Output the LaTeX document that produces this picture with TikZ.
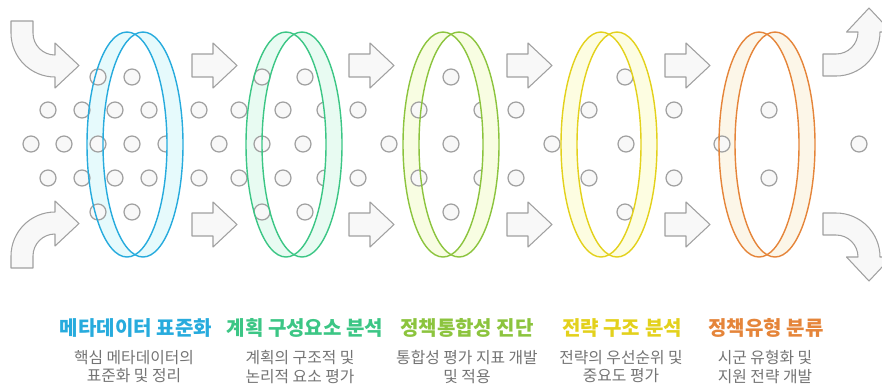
\documentclass[tikz,border=0pt]{standalone}
\usepackage{fontspec}
\setmainfont{Noto Sans CJK KR}
\usetikzlibrary{positioning}

\definecolor{dotgray}{HTML}{A0A0A0}
\definecolor{dotfill}{HTML}{F8F8F8}
\definecolor{descgray}{HTML}{747474}
\definecolor{ringblue}{HTML}{27ABDD}
\definecolor{ringgreen}{HTML}{3CC685}
\definecolor{ringlime}{HTML}{8CC43E}
\definecolor{ringyellow}{HTML}{E3D11C}
\definecolor{ringorange}{HTML}{E5853A}
\definecolor{fillblue}{HTML}{E6FAFC}
\definecolor{fillgreen}{HTML}{E8FBF2}
\definecolor{filllime}{HTML}{F8FDE2}
\definecolor{fillyellow}{HTML}{FDFDE1}
\definecolor{fillorange}{HTML}{FCF6E8}

\tikzset{
  dot/.style={draw=dotgray, fill=dotfill, line width=0.7pt},
  blockarrow/.style={draw=dotgray, fill=dotfill, line width=0.6pt, line join=round},
  ringline/.style={line width=0.8pt},
  title/.style={font=\bfseries\fontsize{11.4}{13}\selectfont},
  desc/.style={font=\fontsize{9}{10.3}\selectfont, text=descgray, align=center},
}

\begin{document}
\begin{tikzpicture}[x=0.02cm, y=-0.02cm]
	\useasboundingbox (0,0) rectangle (882,387);
	\clip (0,0) rectangle (882,387);

	% back half of each ring
	\foreach \m/\c/\f in {135/ringblue/fillblue, 294/ringgreen/fillgreen, 451/ringlime/filllime, 609/ringyellow/fillyellow, 767/ringorange/fillorange} {
		\begin{scope}
			\clip (\m-60,0) rectangle (\m,300);
			\fill[\f, even odd rule] (\m-8,144.5) circle[x radius=40, y radius=112.5] (\m+8,144.5) circle[x radius=40, y radius=112.5];
		\end{scope}
	}

	% the dots
	\foreach \x in {98, 132, 262, 305, 451, 625}
		\draw[dot] (\x,77) circle[radius=8] (\x,212) circle[radius=8];
	\foreach \x in {48, 82, 115, 149, 199, 239, 283, 325, 358, 419, 482, 516, 589, 674, 769}
		\draw[dot] (\x,110) circle[radius=8] (\x,178) circle[radius=8];
	\foreach \x in {31, 64, 98, 132, 166, 219, 262, 303, 389, 451, 552, 626, 722, 859}
		\draw[dot] (\x,144) circle[radius=8];

	% front half and outlines
	\foreach \m/\c/\f in {135/ringblue/fillblue, 294/ringgreen/fillgreen, 451/ringlime/filllime, 609/ringyellow/fillyellow, 767/ringorange/fillorange} {
		\begin{scope}
			\clip (\m,0) rectangle (\m+60,300);
			\fill[\f, even odd rule] (\m-8,144.5) circle[x radius=40, y radius=112.5] (\m+8,144.5) circle[x radius=40, y radius=112.5];
		\end{scope}
		\draw[ringline, \c] (\m-8,144.5) circle[x radius=40, y radius=112.5];
		\draw[ringline, \c] (\m+8,144.5) circle[x radius=40, y radius=112.5];
	}

	% straight arrows between the rings
	\foreach \x in {192, 349, 507, 665}
		\foreach \y in {65.5, 224.5}
			\draw[blockarrow] (\x,\y-11.5) -- (\x+21,\y-11.5) -- (\x+21,\y-22.5) -- (\x+45,\y) -- (\x+21,\y+22.5) -- (\x+21,\y+11.5) -- (\x,\y+11.5) -- cycle;

	% bent arrows in and out
	\draw[blockarrow] (11,21) -- (33,21) -- (33,33) arc[start angle=180, end angle=90, radius=22] -- (55,43) -- (79,65.5) -- (55,88) -- (55,77) arc[start angle=90, end angle=180, radius=44] -- cycle;
	\draw[blockarrow] (11,268) -- (33,268) -- (33,256) arc[start angle=180, end angle=270, radius=22] -- (55,246) -- (79,223.5) -- (55,201) -- (55,212) arc[start angle=270, end angle=180, radius=44] -- cycle;
	\draw[blockarrow] (823,54) -- (836,54) arc[start angle=90, end angle=0, radius=22] -- (846.5,32) -- (869,8) -- (891.5,32) -- (880,32) arc[start angle=0, end angle=90, radius=44] -- (823,76) -- cycle;
	\draw[blockarrow] (823,235) -- (836,235) arc[start angle=270, end angle=360, radius=22] -- (846.5,257) -- (869,281) -- (891.5,257) -- (880,257) arc[start angle=360, end angle=270, radius=44] -- (823,213) -- cycle;

	% stage titles
	\node[title, text=ringblue] (std) at (136,328) {메타데이터 표준화};
	\node[title, text=ringgreen] (plan) at (305,328) {계획 구성요소 분석};
	\node[title, text=ringlime] (integ) at (467,328) {정책통합성 진단};
	\node[title, text=ringyellow] (strat) at (622,328) {전략 구조 분석};
	\node[title, text=ringorange] (kind) at (766,328) {정책유형 분류};

	% descriptions
	\node[desc] (stddesc) at (134,367) {핵심 메타데이터의\\표준화 및 정리};
	\node[desc] (plandesc) at (300,367) {계획의 구조적 및\\논리적 요소 평가};
	\node[desc] (integdesc) at (467,367) {통합성 평가 지표 개발\\및 적용};
	\node[desc] (stratdesc) at (621,367) {전략의 우선순위 및\\중요도 평가};
	\node[desc] (kinddesc) at (765,367) {시군 유형화 및\\지원 전략 개발};
\end{tikzpicture}
\end{document}
